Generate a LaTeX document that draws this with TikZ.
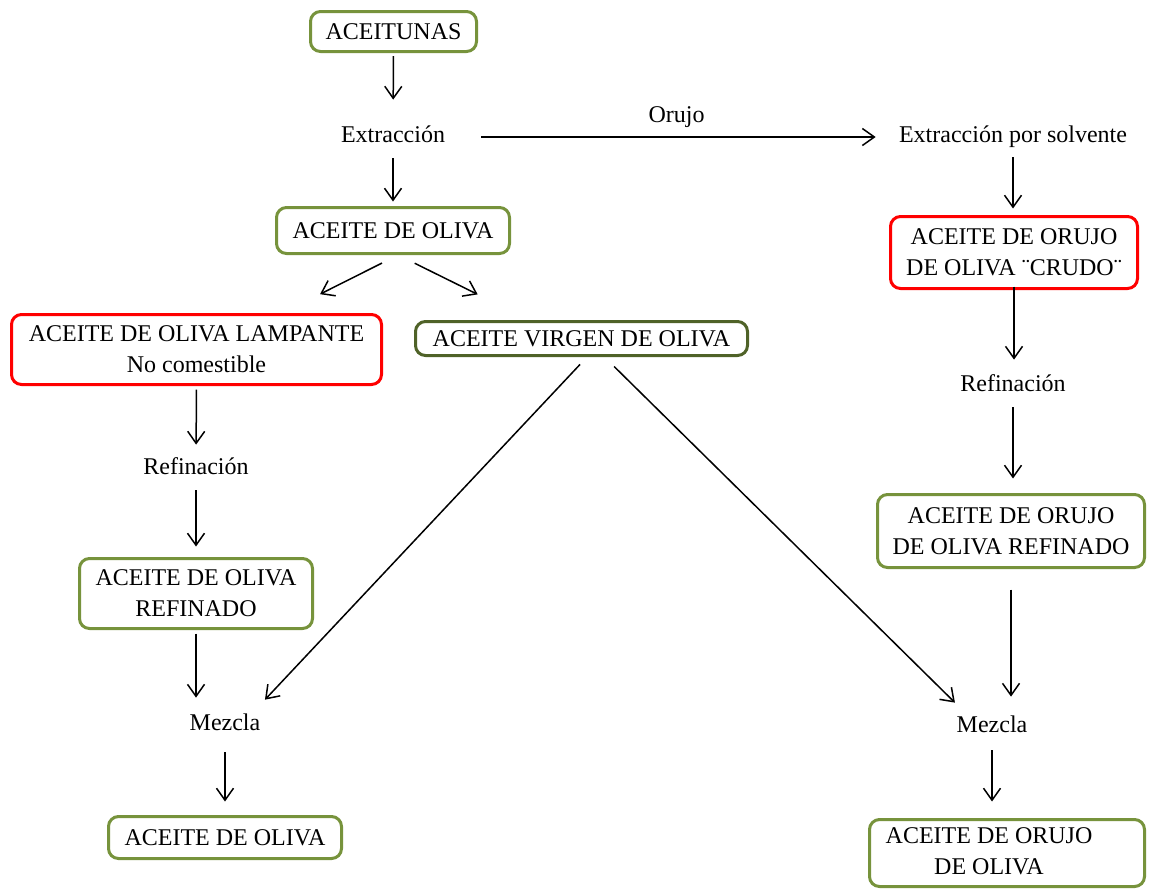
\documentclass[tikz,border=0pt]{standalone}
\usepackage{fontspec}
\setmainfont{Liberation Serif}
\usetikzlibrary{arrows.meta}
\definecolor{olivegreen}{RGB}{119,147,60}
\definecolor{darkolive}{RGB}{79,98,40}

\begin{document}
\begin{tikzpicture}[x=0.5pt, y=-0.5pt,
  font=\rmfamily\fontsize{12}{15.5}\selectfont,
  box/.style={draw, rounded corners=5pt, line width=1.5pt, align=center, inner sep=0pt},
  green box/.style={box, draw=olivegreen},
  red box/.style={box, draw=red},
  stage/.style={inner sep=0pt, text height=8pt, text depth=2.5pt},
  flow/.style={-{Straight Barb[length=6pt,width=8.5pt]}, line width=0.75pt}]
\useasboundingbox (0,0) rectangle (1150,891);

\node[green box, minimum width=83pt, minimum height=20pt] (aceitunas) at (393.5,31.5) {ACEITUNAS};
\node[stage] (extr) at (393,137) {Extracción};
\node[stage] (solvente) at (1013,137) {Extracción por solvente};
\node[green box, minimum width=116.5pt, minimum height=23pt] (oliva) at (393,230.5) {ACEITE DE OLIVA};
\node[red box, minimum width=185pt, minimum height=35pt] (lampante) at (196.5,349.5) {ACEITE DE OLIVA LAMPANTE\\No comestible};
\node[box, draw=darkolive, minimum width=166pt, minimum height=17pt] (virgen) at (581.5,338.5) {ACEITE VIRGEN DE OLIVA};
\node[stage] (refL) at (196,469) {Refinación};
\node[green box, minimum width=116.5pt, minimum height=35pt] (refinado) at (196,593.5) {ACEITE DE OLIVA\\REFINADO};
\node[stage] (mezL) at (225,725) {Mezcla};
\node[green box, minimum width=116.5pt, minimum height=21pt] (olivafin) at (225,837.5) {ACEITE DE OLIVA};
\node[red box, minimum width=123.5pt, minimum height=36pt] (crudo) at (1014,252.5) {ACEITE DE ORUJO\\DE OLIVA ¨CRUDO¨};
\node[stage] (refR) at (1013,386) {Refinación};
\node[green box, minimum width=133.5pt, minimum height=36.5pt] (orujoref) at (1011,531) {ACEITE DE ORUJO\\DE OLIVA REFINADO};
\node[stage] (mezR) at (992,727) {Mezcla};
\node[green box, minimum width=137.5pt, minimum height=33.5pt] (orujofin) at (1007,853) {\begin{tabular}{@{}c@{}}ACEITE DE ORUJO\\DE OLIVA\end{tabular}\hspace{18pt}};

\draw[flow, shorten <=1.5pt, shorten >=13.25pt] (aceitunas.south) -- (extr.north);
\draw[flow, shorten <=18pt, shorten >=11.5pt] (extr.east) -- node[pos=0.51, above=4.5pt, stage] (orujo) {Orujo} (solvente.west);
\draw[flow, shorten <=5.25pt, shorten >=2.25pt] (extr.south) -- (oliva.north);
\draw[flow, shorten <=9pt, shorten >=21pt] ([xshift=2.5pt]oliva.south) -- ([xshift=43pt]lampante.north);
\draw[flow, shorten <=9.3pt, shorten >=28.9pt] ([xshift=2.5pt]oliva.south) -- ([xshift=-26pt]virgen.north);
\draw[flow, shorten <=1.75pt, shorten >=6.75pt] (lampante.south) -- (refL.north);
\draw[flow, shorten <=5.25pt, shorten >=5.25pt] (refL.south) -- (refinado.north);
\draw[flow, shorten <=1.75pt, shorten >=8.25pt] (refinado.south) -- (refinado.south |- mezL.north);
\draw[flow, shorten <=5.1pt, shorten >=9.9pt] ([xshift=2.75pt]virgen.south) -- ([xshift=13.2pt]mezL.north);
\draw[flow, shorten <=6.75pt, shorten >=9.6pt] ([xshift=11.5pt]virgen.south) -- ([xshift=-11.7pt]mezR.north);
\draw[flow, shorten <=8.25pt, shorten >=6.75pt] (mezL.south) -- (olivafin.north);
\draw[flow, shorten <=4.75pt, shorten >=3.25pt] (solvente.south) -- (solvente.south |- crudo.north);
\draw[flow, shorten <=-1.75pt, shorten >=7.75pt] (crudo.south) -- (crudo.south |- refR.north);
\draw[flow, shorten <=5.25pt, shorten >=7.25pt] (refR.south) -- (refR.south |- orujoref.north);
\draw[flow, shorten <=10.25pt, shorten >=9.75pt] (orujoref.south) -- (orujoref.south |- mezR.north);
\draw[flow, shorten <=6.25pt, shorten >=8.25pt] (mezR.south) -- (mezR.south |- orujofin.north);

\end{tikzpicture}
\end{document}
